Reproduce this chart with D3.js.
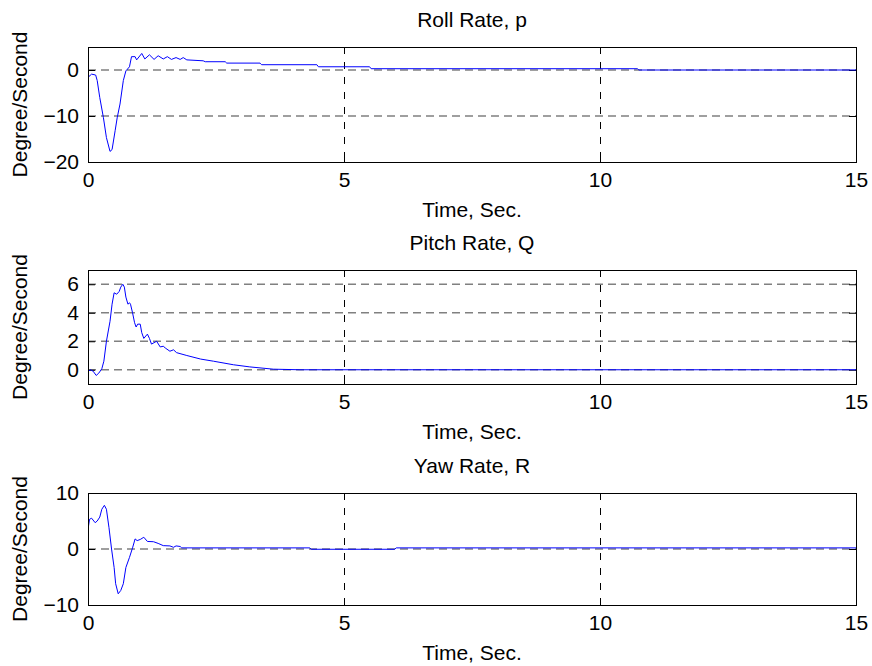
<!DOCTYPE html>
<html>
<head>
<meta charset="utf-8">
<script src="https://cdn.jsdelivr.net/npm/d3@7"></script>
<style>
body { margin: 0; background: #fff; }
text { font-family: Arial, "Liberation Sans", sans-serif; }
</style>
</head>
<body>
<div id="chart-area"></div>
<script>
// data
var xTicks = [0, 5, 10, 15];
var titles = ["Roll Rate, p", "Pitch Rate, Q", "Yaw Rate, R"];
var yDomains = [[-20, 5], [-1, 7], [-10, 10]];
var yTicks = [[-20, -10, 0], [0, 2, 4, 6], [-10, 0, 10]];

var rollT = [0, 0.07, 0.15, 0.18, 0.23, 0.30, 0.36, 0.43, 0.47, 0.53, 0.57, 0.625, 0.69, 0.74, 0.81, 0.85, 0.92, 0.95, 1.05, 1.11, 1.2, 1.29, 1.37, 1.47, 1.55, 1.63, 1.72, 1.80, 1.86, 1.93, 2.25, 2.29, 2.68, 2.71, 3.36, 3.39, 4.47, 4.50, 5.50, 5.53, 10.73, 10.76, 15];
var rollV = [-1.6, -0.9, -1.1, -2.3, -6, -10.3, -14.7, -17.7, -17.3, -13.2, -10.4, -7.4, -2.3, -0.2, 0.7, 2.9, 2.9, 2.2, 3.6, 2.4, 3.3, 2.3, 3.1, 2.4, 2.9, 2.3, 2.7, 2.3, 2.7, 2.2, 2.0, 1.8, 1.8, 1.5, 1.5, 1.15, 1.15, 0.7, 0.7, 0.28, 0.28, 0, 0];

var pitchT = [0, 0.05, 0.1, 0.16, 0.21, 0.27, 0.31, 0.36, 0.43, 0.47, 0.51, 0.56, 0.61, 0.64, 0.68, 0.71, 0.74, 0.78, 0.81, 0.83, 0.87, 0.91, 0.94, 0.97, 1.02, 1.05, 1.09, 1.16, 1.2, 1.24, 1.34, 1.41, 1.47, 1.52, 1.6, 1.67, 1.73, 1.93, 2.2, 2.45, 2.84, 3.16, 3.62, 4.14, 15];
var pitchV = [-0.12, 0, -0.1, -0.4, -0.24, 0.07, 0.6, 2.0, 3.4, 4.6, 5.4, 5.3, 5.5, 5.8, 6.0, 5.8, 5.1, 4.6, 4.7, 4.6, 4.0, 3.3, 3.0, 3.2, 3.2, 2.6, 2.2, 2.5, 2.2, 1.8, 2.0, 1.6, 1.65, 1.5, 1.3, 1.4, 1.2, 1.0, 0.75, 0.6, 0.35, 0.2, 0.04, 0, 0];

var yawT = [0, 0.03, 0.07, 0.14, 0.18, 0.23, 0.27, 0.32, 0.36, 0.41, 0.46, 0.51, 0.54, 0.59, 0.64, 0.69, 0.74, 0.81, 0.87, 0.92, 0.96, 1.02, 1.09, 1.16, 1.28, 1.37, 1.47, 1.6, 1.67, 1.72, 1.8, 1.83, 4.33, 4.36, 5.99, 6.02, 15];
var yawV = [3.5, 5.3, 5.5, 4.7, 5.0, 5.7, 7.1, 7.8, 7.1, 3.8, 0, -3.3, -6.2, -8.0, -7.4, -6.2, -3.3, -1.5, 0.2, 1.8, 1.5, 1.7, 2.1, 1.35, 1.3, 1.0, 0.6, 0.55, 0.3, 0.55, 0.45, 0.2, 0.2, -0.05, -0.05, 0.2, 0.2];

var seriesT = [rollT, pitchT, yawT];
var seriesV = [rollV, pitchV, yawV];

var width = 872;
var height = 666;
var left = 88, right = 856;
var tops = [47, 270, 493];
var heights = [115, 114, 112];
var fontSize = 21;

var svg = d3.select("#chart-area")
    .append("svg")
        .attr("width", width)
        .attr("height", height);

svg.append("rect")
    .attr("width", width)
    .attr("height", height)
    .attr("fill", "#fff");

var x = d3.scaleLinear()
    .domain([0, 15])
    .range([0, right - left]);

titles.forEach((title, i) => {
    var h = heights[i];
    var y = d3.scaleLinear()
        .domain(yDomains[i])
        .range([h, 0]);

    var g = svg.append("g")
        .attr("transform", "translate(" + left + ", " + tops[i] + ")");

    g.append("clipPath")
        .attr("id", "clip" + i)
        .append("rect")
            .attr("width", right - left)
            .attr("height", h);

    // grid
    g.selectAll(".hgrid")
        .data(yTicks[i].filter((d) => d > yDomains[i][0] && d < yDomains[i][1]))
        .enter()
        .append("line")
            .attr("x1", 0)
            .attr("x2", right - left)
            .attr("y1", (d) => y(d))
            .attr("y2", (d) => y(d))
            .attr("stroke", "#808080")
            .attr("stroke-width", 1.5)
            .attr("stroke-dasharray", "8,5");

    g.selectAll(".vgrid")
        .data(xTicks.filter((d) => d > 0 && d < 15))
        .enter()
        .append("line")
            .attr("x1", (d) => Math.round(x(d)) + 0.5)
            .attr("x2", (d) => Math.round(x(d)) + 0.5)
            .attr("y1", 0)
            .attr("y2", h)
            .attr("stroke", "#000")
            .attr("stroke-width", 1)
            .attr("stroke-dasharray", "7,8");

    // axes, ticks pointing inward
    var bottomAxis = d3.axisBottom(x).tickValues(xTicks).tickSizeInner(-7).tickSizeOuter(0).tickPadding(10);
    var gx = g.append("g")
        .attr("transform", "translate(0, " + h + ")")
        .call(bottomAxis);

    var topAxis = d3.axisTop(x).tickValues(xTicks).tickSizeInner(-7).tickSizeOuter(0).tickFormat("");
    var gxt = g.append("g").call(topAxis);

    var leftAxis = d3.axisLeft(y).tickValues(yTicks[i]).tickSizeInner(-7).tickSizeOuter(0).tickPadding(9);
    var gy = g.append("g").call(leftAxis);

    var rightAxis = d3.axisRight(y).tickValues(yTicks[i]).tickSizeInner(-7).tickSizeOuter(0).tickFormat("");
    var gyr = g.append("g")
        .attr("transform", "translate(" + (right - left) + ", 0)")
        .call(rightAxis);

    [gx, gxt, gy, gyr].forEach((a) => {
        a.select(".domain").remove();
        a.attr("font-size", fontSize).attr("font-family", "Arial, 'Liberation Sans', sans-serif");
        a.selectAll("text").attr("fill", "#000");
    });

    // the curve
    var pts = seriesT[i].map((t, k) => [t, seriesV[i][k]]);
    var line = d3.line()
        .x((d) => x(d[0]))
        .y((d) => y(d[1]));

    g.append("path")
        .attr("clip-path", "url(#clip" + i + ")")
        .attr("d", line(pts))
        .attr("fill", "none")
        .attr("stroke", "#0000ff")
        .attr("stroke-width", 1);

    // box
    g.append("rect")
        .attr("x", 0.5)
        .attr("y", 0.5)
        .attr("width", right - left)
        .attr("height", h)
        .attr("fill", "none")
        .attr("stroke", "#000")
        .attr("stroke-width", 1);

    // title and labels
    g.append("text")
        .attr("x", (right - left) / 2)
        .attr("y", -20)
        .attr("font-size", fontSize + "px")
        .attr("text-anchor", "middle")
        .style("fill", "black")
        .text(title);

    g.append("text")
        .attr("x", (right - left) / 2)
        .attr("y", h + 55)
        .attr("font-size", fontSize + "px")
        .attr("text-anchor", "middle")
        .style("fill", "black")
        .text("Time, Sec.");

    g.append("text")
        .attr("x", -(h / 2))
        .attr("y", 27 - left)
        .attr("font-size", fontSize + "px")
        .attr("text-anchor", "middle")
        .attr("transform", "rotate(-90)")
        .style("fill", "black")
        .text("Degree/Second");
});
</script>
</body>
</html>
